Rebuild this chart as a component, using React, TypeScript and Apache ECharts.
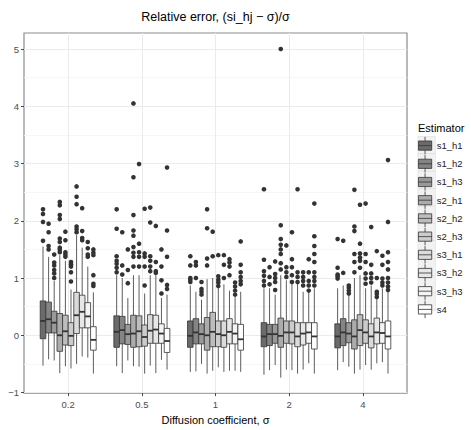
import React, { useEffect, useRef } from 'react';
import * as echarts from 'echarts';

// ---------- data ----------
const categories = ['0.2', '0.5', '1', '2', '4'];
const estimators = ['s1_h1', 's1_h2', 's1_h3', 's2_h1', 's2_h2', 's2_h3', 's3_h1', 's3_h2', 's3_h3', 's4'];
const yTicks = [-1, 0, 1, 2, 3, 4, 5];
const yMinorTicks = [-0.5, 0.5, 1.5, 2.5, 3.5, 4.5];
const xTicks = [1, 2, 3, 4, 5];

// [lower whisker, Q1, median, Q3, upper whisker] per sigma group
const s1_h1_stats = [[-0.53, -0.06, 0.25, 0.6, 1.55], [-0.54, -0.21, 0.06, 0.34, 1.05], [-0.64, -0.21, -0.01, 0.25, 0.87], [-0.69, -0.2, -0.02, 0.22, 0.82], [-0.61, -0.22, -0.02, 0.2, 0.82]];
const s1_h2_stats = [[-0.42, 0.04, 0.28, 0.58, 1.37], [-0.66, -0.15, 0.09, 0.33, 1.0], [-0.63, -0.15, 0.05, 0.29, 0.76], [-0.61, -0.18, 0.02, 0.19, 0.82], [-0.47, -0.18, 0.05, 0.29, 0.87]];
const s1_h3_stats = [[-0.44, 0.04, 0.22, 0.42, 0.95], [-0.44, -0.16, 0.02, 0.19, 0.65], [-0.5, -0.15, 0.02, 0.2, 0.62], [-0.52, -0.14, 0.02, 0.19, 0.71], [-0.55, -0.13, 0.03, 0.22, 0.71]];
const s2_h1_stats = [[-0.66, -0.28, 0.0, 0.38, 1.4], [-0.54, -0.21, 0.03, 0.35, 1.05], [-0.67, -0.26, 0.0, 0.31, 0.98], [-0.74, -0.21, -0.01, 0.3, 1.05], [-0.67, -0.24, -0.02, 0.27, 1.0]];
const s2_h2_stats = [[-0.54, -0.17, 0.07, 0.35, 1.3], [-0.55, -0.2, 0.07, 0.34, 1.05], [-0.62, -0.2, 0.06, 0.4, 1.0], [-0.6, -0.14, 0.05, 0.25, 0.96], [-0.6, -0.18, 0.09, 0.36, 1.05]];
const s2_h3_stats = [[-0.58, -0.18, -0.01, 0.22, 0.8], [-0.67, -0.19, -0.03, 0.18, 0.73], [-0.56, -0.2, 0.02, 0.25, 0.84], [-0.61, -0.15, 0.05, 0.25, 0.9], [-0.52, -0.14, 0.05, 0.27, 0.82]];
const s3_h1_stats = [[-0.5, 0.03, 0.35, 0.75, 1.75], [-0.53, -0.14, 0.08, 0.36, 1.05], [-0.64, -0.21, 0.0, 0.25, 0.89], [-0.67, -0.2, -0.02, 0.22, 0.9], [-0.6, -0.22, -0.02, 0.2, 0.87]];
const s3_h2_stats = [[-0.37, 0.13, 0.41, 0.7, 1.53], [-0.66, -0.14, 0.1, 0.35, 1.05], [-0.62, -0.15, 0.06, 0.29, 0.78], [-0.6, -0.17, 0.03, 0.22, 0.76], [-0.49, -0.15, 0.05, 0.3, 0.65]];
const s3_h3_stats = [[-0.39, 0.13, 0.33, 0.57, 1.2], [-0.43, -0.14, 0.03, 0.2, 0.65], [-0.62, -0.15, 0.03, 0.2, 0.67], [-0.49, -0.14, 0.05, 0.22, 0.76], [-0.47, -0.14, 0.04, 0.22, 0.82]];
const s4_stats = [[-0.67, -0.26, -0.08, 0.15, 0.75], [-0.6, -0.3, -0.1, 0.12, 0.71], [-0.64, -0.26, -0.07, 0.19, 0.76], [-0.67, -0.24, -0.02, 0.22, 0.82], [-0.67, -0.24, -0.02, 0.25, 0.76]];

// outliers per sigma group
const s1_h1_out = [[1.65, 1.98, 2.12, 2.2], [1.1, 1.18, 1.25, 1.3, 1.38, 1.86, 2.2], [0.93, 0.97, 1.0, 1.22, 1.38], [0.87, 0.95, 1.04, 1.12, 1.32, 2.55], [0.99, 1.03, 1.06, 1.18, 1.68]];
const s1_h2_out = [[1.5, 1.56, 1.8, 1.95], [1.06, 1.22, 1.8], [1.0, 1.22, 1.28], [0.89, 1.02, 1.19], [1.09, 1.65]];
const s1_h3_out = [[1.0, 1.08, 1.14, 1.22, 1.27, 1.41], [0.91, 1.14, 1.5], [0.71, 0.76, 0.81, 0.93], [0.79, 0.93, 1.0, 1.07, 1.29], [0.73, 0.78, 0.83, 0.87]];
const s2_h1_out = [[1.45, 1.5, 1.53, 1.63, 1.69, 2.03, 2.1, 2.27, 2.33], [1.2, 1.37, 1.44, 1.54, 1.74, 1.83, 2.1, 2.76, 4.05], [1.22, 1.34, 1.87, 2.2], [1.15, 1.26, 1.42, 1.5, 1.58, 1.68, 1.92, 5.0], [1.1, 1.28, 1.42, 1.82, 1.9, 2.54]];
const s2_h2_out = [[1.37, 1.41, 1.45, 1.66, 1.81], [1.2, 1.37, 1.45, 1.6, 2.99], [1.38, 1.81], [1.02, 1.1, 1.19, 1.57], [1.18, 1.3, 1.36, 1.43, 1.6, 2.28]];
const s2_h3_out = [[0.94, 1.1, 1.2, 1.24, 1.28], [0.87, 1.2, 1.37, 1.43, 2.21], [0.86, 0.92, 0.97, 1.03, 1.4], [0.93, 1.05, 1.19, 1.33, 1.8], [0.9, 0.99, 1.08, 1.28, 1.42, 2.3]];
const s3_h1_out = [[1.8, 1.85, 1.9, 2.29, 2.42, 2.6], [1.12, 1.2, 1.3, 1.38, 1.97, 2.23], [1.0, 1.23, 1.4], [0.93, 1.02, 1.1, 2.55], [0.92, 1.0, 1.08, 1.23, 1.89]];
const s3_h2_out = [[1.66, 1.7, 1.82, 2.22], [1.09, 1.12, 1.28, 1.91], [1.05, 1.2, 1.27, 1.33], [0.87, 0.95, 1.02, 1.1], [0.67, 0.72, 0.76, 1.0, 1.47]];
const s3_h3_out = [[1.37, 1.41, 1.52, 1.63], [0.73, 0.96, 1.2, 1.5], [0.71, 0.78, 0.85, 0.92], [0.78, 0.87, 0.95, 1.1, 1.33], [0.87, 0.92, 0.99, 1.23, 1.39]];
const s4_out = [[0.86, 0.9, 1.05, 1.4, 1.44, 1.5], [0.81, 0.88, 1.37, 1.83, 2.93], [0.89, 0.95, 1.02, 1.1, 1.23, 1.64], [0.87, 0.95, 1.02, 1.1, 1.28, 1.42, 1.56, 1.73, 2.3], [0.79, 0.85, 0.92, 1.0, 1.15, 1.28, 1.45, 1.98, 3.06]];

const allStats = [s1_h1_stats, s1_h2_stats, s1_h3_stats, s2_h1_stats, s2_h2_stats, s2_h3_stats, s3_h1_stats, s3_h2_stats, s3_h3_stats, s4_stats];
const allOut = [s1_h1_out, s1_h2_out, s1_h3_out, s2_h1_out, s2_h2_out, s2_h3_out, s3_h1_out, s3_h2_out, s3_h3_out, s4_out];

// ---------- styles ----------
const fills = ['#6b6b6b', '#848484', '#999999', '#acacac', '#bdbdbd', '#cccccc', '#dbdbdb', '#e7e7e7', '#f4f4f4', '#ffffff'];
const FONT = '"Liberation Sans", Arial, Helvetica, sans-serif';
const LINE = '#333333';
const DODGE = 0.76;

const keyIcon = 'path://M8.5,0V4 M2,4H15V13H2Z M2,8.5H15 M8.5,13V17';

function makeRender(s: number) {
  const n = estimators.length;
  return (params: any, api: any) => {
    const gi = api.value(0);
    const lo = api.value(1), q1 = api.value(2), med = api.value(3), q3 = api.value(4), hi = api.value(5);
    const band = api.size([1, 0])[0];
    const bw = (band * DODGE) / n;
    const cx = api.coord([gi, 0])[0] + (s - (n - 1) / 2) * bw;
    const y = (v: number) => api.coord([gi, v])[1];
    const x0 = cx - bw / 2;
    const x1 = cx + bw / 2;
    const children: any[] = [
      { type: 'line', shape: { x1: cx, y1: y(hi), x2: cx, y2: y(q3) }, style: { stroke: LINE, lineWidth: 0.8 } },
      { type: 'line', shape: { x1: cx, y1: y(q1), x2: cx, y2: y(lo) }, style: { stroke: LINE, lineWidth: 0.8 } },
      { type: 'rect', shape: { x: x0, y: y(q3), width: bw, height: y(q1) - y(q3) }, style: { fill: fills[s], stroke: LINE, lineWidth: 0.8 } },
      { type: 'line', shape: { x1: x0, y1: y(med), x2: x1, y2: y(med) }, style: { stroke: LINE, lineWidth: 1.8 } },
    ];
    const outs = allOut[s][params.dataIndex] || [];
    outs.forEach((v: number) => {
      children.push({ type: 'circle', z2: 20, shape: { cx, cy: y(v), r: 2.3 }, style: { fill: '#333333' } });
    });
    return { type: 'group', children };
  };
}

export default function App() {
  const ref = useRef<HTMLDivElement>(null);
  useEffect(() => {
    document.body.style.margin = '0';
    const chart = echarts.init(ref.current!, null, { renderer: 'svg' });
    const series = estimators.map((name, s) => ({
      type: 'custom',
      name,
      xAxisIndex: 0,
      yAxisIndex: 0,
      data: allStats[s].map((st, g) => [g + 1, ...st]),
      encode: { x: 0, y: [1, 2, 3, 4, 5] },
      itemStyle: { color: fills[s], borderColor: LINE, borderWidth: 0.8 },
      renderItem: makeRender(s),
      clip: true,
    }));

    const legendTop = 136.5;
    const keySize = 17.4;
    const keyBg = estimators.map((_, i) => ({
      type: 'rect',
      shape: { x: 418, y: legendTop + i * keySize, width: keySize, height: keySize },
      style: { fill: '#f2f2f2', stroke: '#dcdcdc', lineWidth: 0.6 },
      z: 0,
    }));

    chart.setOption({
      animation: false,
      backgroundColor: '#ffffff',
      textStyle: { fontFamily: FONT },
      grid: { left: 24, right: 64, top: 33, bottom: 30, show: true, borderColor: '#8c8c8c', borderWidth: 1.2, backgroundColor: '#ffffff', containLabel: false },
      xAxis: {
        type: 'value',
        min: 0.4,
        max: 5.6,
        name: 'Diffusion coefficient, σ',
        nameLocation: 'middle',
        nameGap: 16,
        nameTextStyle: { fontSize: 11, color: '#000000', fontFamily: FONT },
        axisLine: { show: false, onZero: false },
        axisTick: { show: true, customValues: xTicks, length: 3, lineStyle: { color: LINE, width: 0.9 } },
        axisLabel: { customValues: xTicks, formatter: (v: number) => categories[Math.round(v) - 1] ?? '', color: '#4d4d4d', fontSize: 9.5, margin: 6, fontFamily: FONT },
        splitLine: { show: true, lineStyle: { color: '#ebebeb', width: 1 } },
      },
      yAxis: [
        {
          type: 'value',
          min: -1.01,
          max: 5.28,
          axisLine: { show: false },
          axisTick: { show: true, customValues: yTicks, length: 3, lineStyle: { color: LINE, width: 0.9 } },
          axisLabel: { customValues: yTicks, formatter: (v: number) => String(v).replace('-', '\u2212'), color: '#4d4d4d', fontSize: 9.5, margin: 5, fontFamily: FONT },
          splitLine: { show: true, lineStyle: { color: '#ebebeb', width: 1 } },
        },
        {
          type: 'value',
          min: -1.01,
          max: 5.28,
          position: 'left',
          axisLine: { show: false },
          axisTick: { show: false, customValues: yMinorTicks },
          axisLabel: { show: false, customValues: yMinorTicks },
          splitLine: { show: true, lineStyle: { color: '#f5f5f5', width: 0.8 } },
        },
      ],
      legend: {
        orient: 'vertical',
        left: 418,
        top: legendTop,
        padding: 0,
        itemWidth: keySize,
        itemHeight: keySize,
        itemGap: 0,
        icon: keyIcon,
        selectedMode: false,
        itemStyle: { borderColor: LINE, borderWidth: 0.8 },
        textStyle: { fontSize: 9.5, color: '#1a1a1a', fontFamily: FONT, padding: [0, 0, 0, -2] },
        data: estimators,
      },
      graphic: [
        { type: 'text', x: 215.5, y: 17, style: { text: 'Relative error, (si_hj \u2212 \u03c3)/\u03c3', fontSize: 12.5, fontFamily: FONT, fill: '#000000', textAlign: 'center', textVerticalAlign: 'middle' } },
        { type: 'text', x: 418, y: 128, style: { text: 'Estimator', fontSize: 11, fontFamily: FONT, fill: '#000000', textAlign: 'left', textVerticalAlign: 'middle' } },
        ...keyBg,
      ],
      series,
    });
    return () => chart.dispose();
  }, []);
  return <div ref={ref} style={{ width: 471, height: 430 }} />;
}
